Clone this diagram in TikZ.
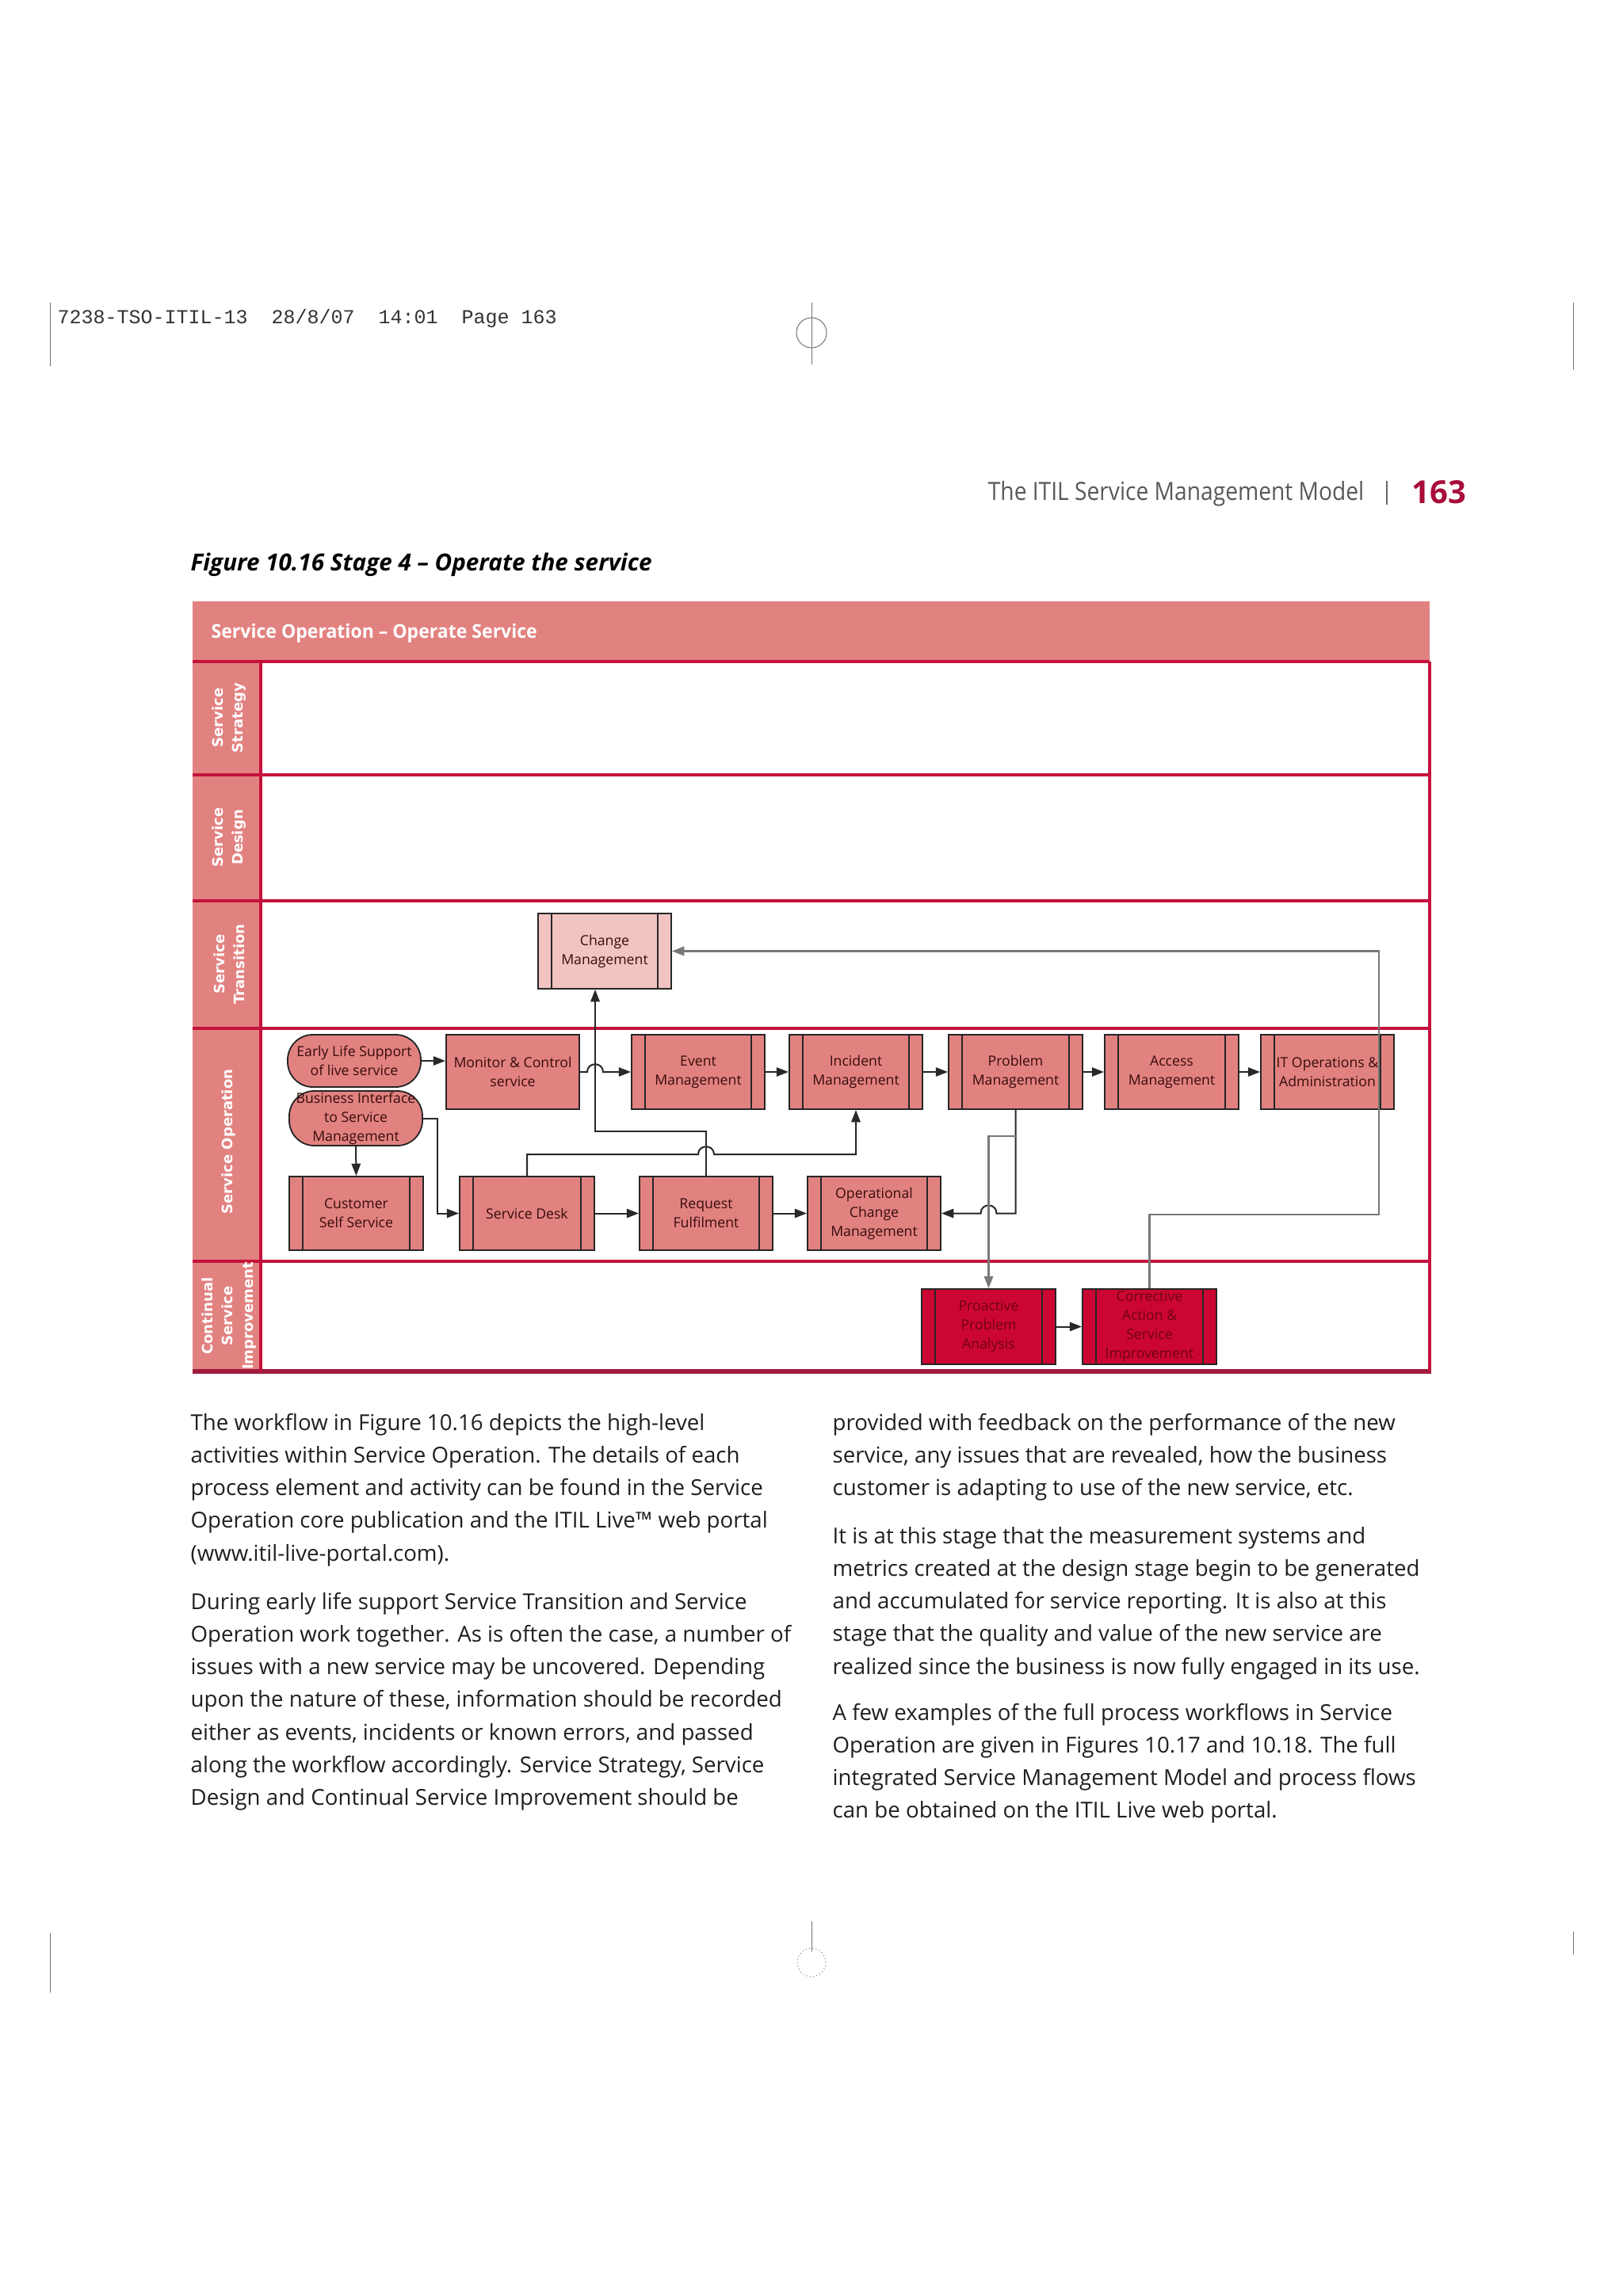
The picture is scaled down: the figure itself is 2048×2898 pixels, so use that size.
\documentclass[tikz,border=0pt]{standalone}
\usepackage{fontspec}
\usepackage{graphicx}
\setmainfont{Open Sans}
\newfontfamily\lanefont{DejaVu Sans}
\newfontfamily\slugfont{Liberation Mono}
\usetikzlibrary{arrows.meta}
\definecolor{salmon}{RGB}{226,130,128}
\definecolor{pinklt}{RGB}{241,196,194}
\definecolor{crim}{RGB}{196,18,60}
\definecolor{crimdk}{RGB}{160,28,62}
\definecolor{csired}{RGB}{204,6,50}
\definecolor{csitxt}{RGB}{110,0,20}
\definecolor{boxtxt}{RGB}{55,12,12}
\definecolor{conn}{RGB}{40,40,40}
\definecolor{conngray}{RGB}{120,120,120}
\definecolor{pagenum}{RGB}{168,12,56}
\tikzset{
  proc/.style={draw=black!85, line width=0.55pt, fill=salmon, inner sep=0pt, align=center,
    text=boxtxt, font=\fontsize{5.3}{7.2}\selectfont},
  barline/.style={draw=black!85, line width=0.55pt},
  arr/.style={draw=conn, line width=0.6pt, -{Triangle[length=4.6pt,width=3.4pt]}},
  garr/.style={draw=conngray, line width=0.8pt, -{Triangle[length=4.6pt,width=3.4pt]}},
  lane/.style={draw=crim, line width=1.2pt},
  lanelabel/.style={text=white, font=\lanefont\bfseries\fontsize{5.4}{7.6}\selectfont, rotate=90, align=center, inner sep=0pt},
  body/.style={font=\fontsize{8.3}{12.4}\selectfont, anchor=base west, inner sep=0pt, text=black!88},
  crop/.style={draw=black!55, line width=0.3pt},
}
% optional style, name, x1, y1, x2, y2, text
\newcommand\pbox[7][]{%
  \node[proc,#1,minimum width={(#5-#3)*0.3pt},minimum height={(#6-#4)*0.3pt}] (#2) at ({(#3+#5)/2},{(#4+#6)/2}) {#7};
  \draw[barline] ({#3+17},#4) -- ({#3+17},#6);
  \draw[barline] ({#5-17},#4) -- ({#5-17},#6);
}
\begin{document}
\begin{tikzpicture}[x=0.3pt,y=-0.3pt]
\useasboundingbox[fill=white] (0,0) rectangle (2048,2898);

% crop marks
\draw[crop] (63,382) -- (63,462);
\draw[crop] (1985,382) -- (1985,467);
\draw[crop] (1024,382) -- (1024,460);
\draw[crop] (1024,420) circle (5.7pt);
\draw[crop] (63,2440) -- (63,2515);
\draw[crop] (1985,2438) -- (1985,2467);
\draw[crop] (1024,2425) -- (1024,2463);
\draw[crop, densely dotted] (1024,2477) circle (5.4pt);

% running heads
\node[anchor=west, inner sep=0pt, font=\slugfont\fontsize{7.5}{8}\selectfont, text=black!80] (slug) at (72,402) {7238-TSO-ITIL-13~~28/8/07~~14:01~~Page 163};
\node[anchor=east, inner sep=0pt, font=\fontsize{9.5}{10}\selectfont, text=black!65] (runhead) at (1722,623) {\scalebox{0.89}[1]{The ITIL Service Management Model}};
\draw[draw=black!60, line width=0.4pt] (1750,607) -- (1750,637);
\node[anchor=west, inner sep=0pt, font=\bfseries\fontsize{12}{12}\selectfont, text=pagenum] (pgnum) at (1781,621) {163};
\node[anchor=west, inner sep=0pt, font=\bfseries\itshape\fontsize{8.9}{9}\selectfont] (caption) at (240,713) {Figure 10.16 Stage 4 -- Operate the service};

% frame
\fill[salmon] (243,759) rectangle (1804,835);
\fill[salmon] (243,835) rectangle (329,1731);
\node[anchor=west, inner sep=0pt, text=white, font=\bfseries\fontsize{7.2}{8}\selectfont] (title) at (266,799) {\scalebox{0.96}[1]{Service Operation -- Operate Service}};
\foreach \yy in {835,978,1137,1298,1592} { \draw[lane] (243,\yy) -- (1804,\yy); }
\draw[lane, draw=crimdk, line width=1.6pt] (243,1731) -- (1806,1731);
\draw[lane] (329,835) -- (329,1731);
\draw[lane] (1804,835) -- (1804,1731);

\node[lanelabel] (lstrat) at (289,906) {Service\\Strategy};
\node[lanelabel] (ldes) at (289,1057) {Service\\Design};
\node[lanelabel] (ltrans) at (289,1217) {Service\\Transition};
\node[lanelabel] (lop) at (289,1441) {Service Operation};
\node[lanelabel] (lcsi) at (289,1661) {Continual\\Service\\Improvement};

% process boxes
\pbox[fill=pinklt]{chg}{679}{1153}{847}{1248}{Change\\Management}
\node[proc, rounded corners=9.5pt, minimum width={168*0.3pt}, minimum height={66*0.3pt}] (els) at (447,1339) {Early Life Support\\of live service};
\node[proc, rounded corners=9.5pt, minimum width={168*0.3pt}, minimum height={69*0.3pt}] (bi) at (449,1411.5) {Business Interface\\to Service\\Management};
\node[proc, minimum width={168*0.3pt}, minimum height={94*0.3pt}] (mon) at (647,1353) {Monitor \& Control\\service};
\pbox{ev}{797}{1306}{965}{1400}{Event\\Management}
\pbox{inc}{996}{1306}{1164}{1400}{Incident\\Management}
\pbox{prob}{1197}{1306}{1366}{1400}{Problem\\Management}
\pbox{acc}{1394}{1306}{1563}{1400}{Access\\Management}
\pbox{itops}{1591}{1306}{1759}{1400}{IT Operations \&\\Administration}
\pbox{cust}{365}{1485}{534}{1578}{Customer\\Self Service}
\pbox{sd}{580}{1485}{750}{1578}{Service Desk}
\pbox{req}{807}{1485}{975}{1578}{Request\\Fulfilment}
\pbox{opc}{1019}{1485}{1187}{1578}{Operational\\Change\\Management}
\pbox[fill=csired, text=csitxt]{pro}{1163}{1627}{1332}{1722}{Proactive\\Problem\\Analysis}
\pbox[fill=csired, text=csitxt]{cor}{1366}{1627}{1535}{1722}{Corrective\\Action \&\\Service\\Improvement}

% connectors
\draw[arr] (els.east) -- (els.east -| mon.west);
\draw[arr] (mon.east) -- (741,1353) .. controls (741,1340) and (761,1340) .. (761,1353) -- (ev.west);
\draw[arr] (ev.east) -- (inc.west);
\draw[arr] (inc.east) -- (prob.west);
\draw[arr] (prob.east) -- (acc.west);
\draw[arr] (acc.east) -- (itops.west);
\coordinate (vA) at (751,0);
\draw[arr] (req.north) -- (891,1428) -- (751,1428) -- (chg.south -| vA);
\draw[arr] (sd.north) -- (665,1457) -- (881,1457) .. controls (881,1444) and (901,1444) .. (901,1457) -- (1080,1457) -- (inc.south);
\draw[arr] (bi.east) -- (552,1411.5) -- (552,1531.5) -- (sd.west);
\draw[arr] (bi.south) -- (cust.north);
\draw[arr] (sd.east) -- (req.west);
\draw[arr] (req.east) -- (opc.west);
\draw[arr] (prob.south) -- (1281.5,1531.5) -- (1257.5,1531.5) .. controls (1257.5,1518) and (1237.5,1518) .. (1237.5,1531.5) -- (opc.east);
\coordinate (br) at (1281.5,1434);
\draw[garr] (br) -- (1247.5,1434) -- (pro.north);
\draw[arr] (pro.east) -- (cor.west);
\draw[garr] (cor.north) -- (1450.5,1533) -- (1740,1533) -- (1740,1200.5) -- (chg.east);

% body text, left column
\node[body] (l1) at (240,1805) {The workflow in Figure 10.16 depicts the high-level};
\node[body] (l2) at (240,1846.3) {activities within Service Operation. The details of each};
\node[body] (l3) at (240,1887.6) {process element and activity can be found in the Service};
\node[body] (l4) at (240,1928.9) {Operation core publication and the ITIL Live™ web portal};
\node[body] (l5) at (240,1970.2) {(www.itil-live-portal.com).};
\node[body] (l6) at (240,2031) {During early life support Service Transition and Service};
\node[body] (l7) at (240,2072.3) {Operation work together. As is often the case, a number of};
\node[body] (l8) at (240,2113.6) {issues with a new service may be uncovered. Depending};
\node[body] (l9) at (240,2154.9) {upon the nature of these, information should be recorded};
\node[body] (l10) at (240,2196.2) {either as events, incidents or known errors, and passed};
\node[body] (l11) at (240,2237.5) {along the workflow accordingly. Service Strategy, Service};
\node[body] (l12) at (240,2278.8) {Design and Continual Service Improvement should be};
% right column
\node[body] (r1) at (1050,1805) {provided with feedback on the performance of the new};
\node[body] (r2) at (1050,1846.3) {service, any issues that are revealed, how the business};
\node[body] (r3) at (1050,1887.6) {customer is adapting to use of the new service, etc.};
\node[body] (r4) at (1050,1948) {It is at this stage that the measurement systems and};
\node[body] (r5) at (1050,1989.3) {metrics created at the design stage begin to be generated};
\node[body] (r6) at (1050,2030.6) {and accumulated for service reporting. It is also at this};
\node[body] (r7) at (1050,2071.9) {stage that the quality and value of the new service are};
\node[body] (r8) at (1050,2113.2) {realized since the business is now fully engaged in its use.};
\node[body] (r9) at (1050,2171) {A few examples of the full process workflows in Service};
\node[body] (r10) at (1050,2212.3) {Operation are given in Figures 10.17 and 10.18. The full};
\node[body] (r11) at (1050,2253.6) {integrated Service Management Model and process flows};
\node[body] (r12) at (1050,2294.9) {can be obtained on the ITIL Live web portal.};
\end{tikzpicture}
\end{document}
